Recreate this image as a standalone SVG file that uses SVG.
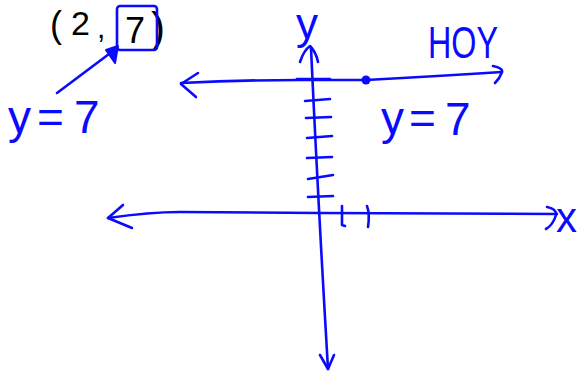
<svg xmlns="http://www.w3.org/2000/svg" width="579" height="371" viewBox="0 0 579 371">
<style>
.s{fill:none;stroke:#0a0aff;stroke-width:2.6;stroke-linecap:round;stroke-linejoin:round}
.b{fill:#0a0aff;font-family:"Liberation Sans",Arial,sans-serif}
.k{fill:#000;font-family:"Liberation Sans",Arial,sans-serif}
</style>
<rect width="579" height="371" fill="#fff"/>
<g id="point-label">
<text class="k" font-size="36"><tspan x="50" y="37">(</tspan><tspan x="71" y="35" font-size="34">2</tspan><tspan x="97" y="38" font-size="30">,</tspan><tspan x="125" y="43" font-size="36">7</tspan><tspan x="151" y="42" font-size="42">)</tspan></text>
<rect class="s" x="117" y="6" width="40" height="44" rx="3"/>
</g>
<g id="left-label">
<text class="b" font-size="46"><tspan x="8" y="133">y</tspan><tspan x="37" y="133">=</tspan><tspan x="74" y="133">7</tspan></text>
</g>
<g id="right-label">
<text class="b" font-size="46"><tspan x="381" y="134">y</tspan><tspan x="409" y="134">=</tspan><tspan x="445" y="135">7</tspan></text>
</g>
<g id="hoy">
<text class="b" font-size="44" x="428" y="58" textLength="70" lengthAdjust="spacingAndGlyphs">HOY</text>
</g>
<g id="axis-labels">
<text class="b" font-size="44" x="296" y="39">y</text>
<text class="b" font-size="42" x="556" y="232">x</text>
</g>
<g id="connectors">
<path class="s" d="M57 93 L117 48"/>
<path d="M106 50 L118 46 L115 63 Z" fill="#0a0aff" stroke="#0a0aff" stroke-width="2" stroke-linejoin="round"/>
<path class="s" d="M311 48 Q318 200 328 369"/>
<path class="s" d="M300 62 Q304 50 310 46 Q316 52 318 62"/>
<path class="s" d="M320 355 L328 369 L334 355"/>
<path class="s" d="M305 101 L330 99 M306 118 L331 117 M307 138 L332 136 M307 158 L332 157 M308 179 L333 175 M308 197 L333 196"/>
<path class="s" d="M181 83 Q240 80 300 80 L366 80 Q440 76 502 72"/>
<path class="s" d="M297 79 L330 79"/>
<path class="s" d="M198 73 L181 84 L196 97"/>
<path class="s" d="M493 66 Q503 68 502 72 Q500 78 495 83"/>
<circle cx="366" cy="80" r="4.5" fill="#0a0aff"/>
<path class="s" d="M108 218 Q150 212 180 212 L320 213 L557 214"/>
<path class="s" d="M123 205 L108 218 L132 228"/>
<path class="s" d="M547 207 Q557 209 556 215 Q553 225 546 229"/>
<path class="s" d="M342 206 L342 225 L345 226 M367 206 Q370 214 368 227"/>
</g>
</svg>
